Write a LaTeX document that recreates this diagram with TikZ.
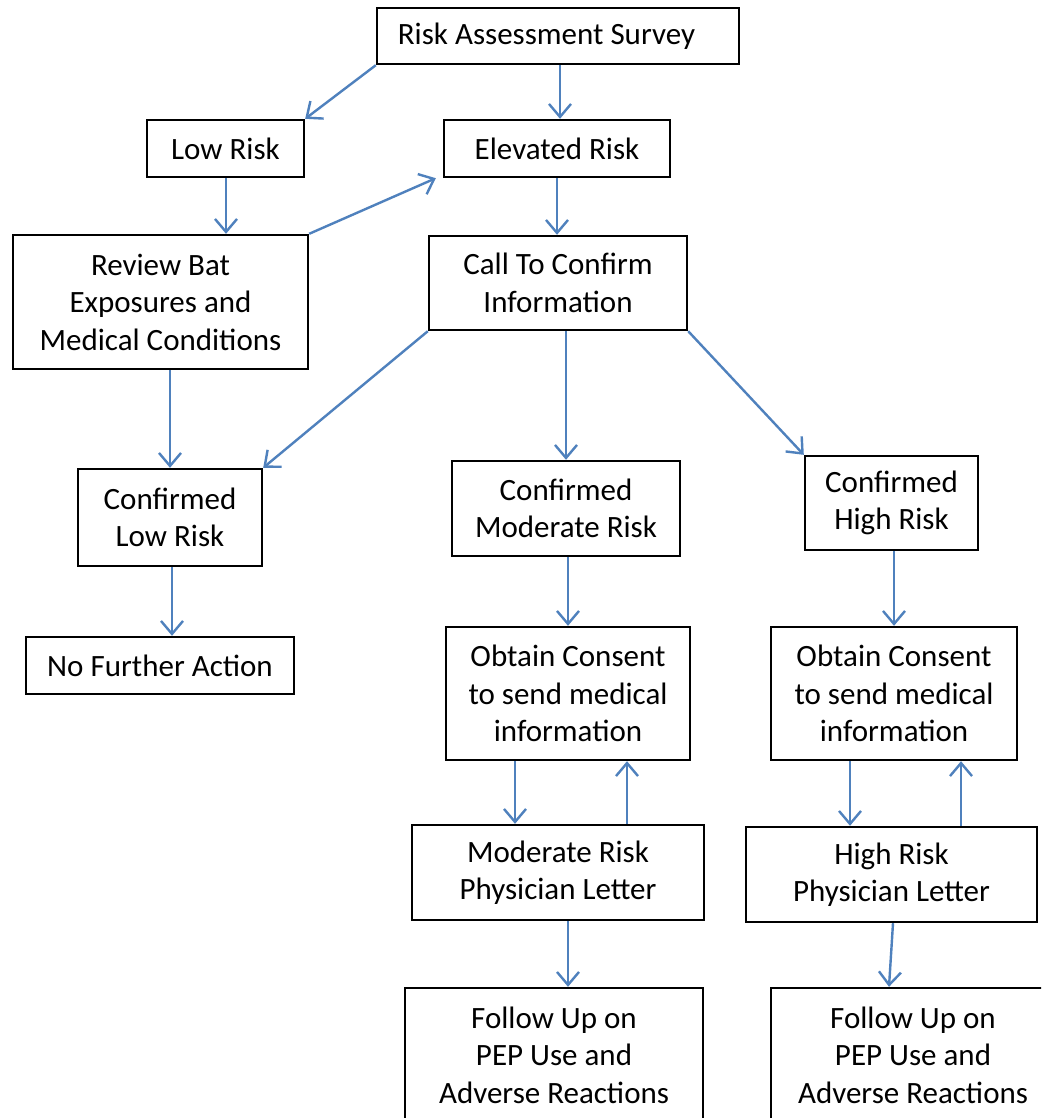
\documentclass[tikz,border=0pt]{standalone}
\usepackage{fontspec}
\setmainfont{Carlito}
\usetikzlibrary{arrows.meta}
\definecolor{arrowblue}{RGB}{79,129,189}
\tikzset{
  box/.style={draw=black, line width=2.4pt, align=center, inner sep=0pt,
    font=\fontsize{31}{37.5}\selectfont, text=black},
  conn/.style={draw=arrowblue, line width=2.4pt,
    -{Straight Barb[length=13pt,width=22pt,line width=2.4pt]}}
}
\begin{document}
\begin{tikzpicture}[x=1pt,y=-1pt]
\clip (0,0) rectangle (1041,1118);
\fill[white] (0,0) rectangle (1041,1118);
\node[box, minimum width=362pt, minimum height=56pt] (ras) at (558,36) {Risk Assessment Survey\hspace*{23pt}};
\node[box, minimum width=157pt, minimum height=57pt] (low) at (225.5,148.5) {Low Risk};
\node[box, minimum width=226pt, minimum height=57pt] (elev) at (557,148.5) {Elevated Risk};
\node[box, minimum width=295pt, minimum height=134pt] (review) at (160.5,302) {Review Bat\\Exposures and\\Medical Conditions};
\node[box, minimum width=258pt, minimum height=94pt] (call) at (558,283) {Call To Confirm\\Information};
\node[box, minimum width=184pt, minimum height=97pt] (clow) at (170,517.5) {Confirmed\\Low Risk};
\node[box, minimum width=228pt, minimum height=95pt] (cmod) at (566,508.5) {Confirmed\\Moderate Risk};
\node[box, minimum width=173pt, minimum height=94pt] (chigh) at (891.5,503) {Confirmed\\High Risk};
\node[box, minimum width=268pt, minimum height=57pt] (nfa) at (160,665.5) {No Further Action};
\node[box, minimum width=244pt, minimum height=133pt] (omod) at (568,693.5) {Obtain Consent\\to send medical\\information};
\node[box, minimum width=246pt, minimum height=133pt] (ohigh) at (894,693.5) {Obtain Consent\\to send medical\\information};
\node[box, minimum width=292pt, minimum height=95pt] (lmod) at (558,872.5) {Moderate Risk\\Physician Letter};
\node[box, minimum width=291pt, minimum height=95pt] (lhigh) at (891.5,874.5) {High Risk\\Physician Letter};
\node[box, minimum width=298pt, minimum height=134pt] (fmod) at (554,1055) {Follow Up on\\PEP Use and\\Adverse Reactions};
\node[box, minimum width=284pt, minimum height=134pt] (fhigh) at (913,1055) {Follow Up on\\PEP Use and\\Adverse Reactions};

\draw[conn] (ras.south west) -- (low.north east);
\draw[conn] ([xshift=2pt]ras.south) -- ([xshift=3pt]elev.north);
\draw[conn] ([xshift=0.5pt]low.south) -- ([xshift=0.5pt]low.south |- review.north);
\draw[conn] (review.north east) -- ([xshift=-7pt]elev.south west);
\draw[conn] (elev.south) -- (elev.south |- call.north);
\draw[conn] (clow.north |- review.south) -- (clow.north);
\draw[conn] (call.south west) -- (clow.north east);
\draw[conn] (cmod.north |- call.south) -- (cmod.north);
\draw[conn] (call.south east) -- (chigh.north west);
\draw[conn] ([xshift=2pt]clow.south) -- ([xshift=2pt]clow.south |- nfa.north);
\draw[conn] ([xshift=2pt]cmod.south) -- ([xshift=2pt]cmod.south |- omod.north);
\draw[conn] ([xshift=2.5pt]chigh.south) -- ([xshift=2.5pt]chigh.south |- ohigh.north);
\draw[conn] ([xshift=-53pt]omod.south) -- ([xshift=-53pt]omod.south |- lmod.north);
\draw[conn] ([xshift=59pt]omod.south |- lmod.north) -- ([xshift=59pt]omod.south);
\draw[conn] ([xshift=-44pt]ohigh.south) -- ([xshift=-44pt]ohigh.south |- lhigh.north);
\draw[conn] ([xshift=67pt]ohigh.south |- lhigh.north) -- ([xshift=67pt]ohigh.south);
\draw[conn] ([xshift=10pt]lmod.south) -- ([xshift=10pt]lmod.south |- fmod.north);
\draw[conn] ([xshift=1.5pt]lhigh.south) -- ([xshift=-24pt]fhigh.north);
\end{tikzpicture}
\end{document}
